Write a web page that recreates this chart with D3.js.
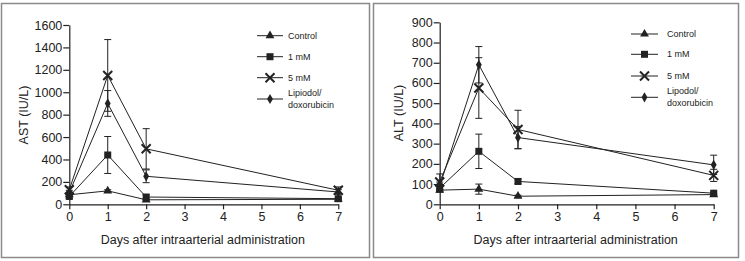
<!DOCTYPE html>
<html><head><meta charset="utf-8">
<script src="https://cdn.jsdelivr.net/npm/d3@7"></script>
<style>body{margin:0;background:#fff}svg{display:block}text{font-family:Arial,"Liberation Sans",sans-serif;fill:#222}</style>
</head><body>
<svg id="c" width="745" height="261"></svg>
<script>
const days = [0, 1, 2, 7];
const xTicks = [0, 1, 2, 3, 4, 5, 6, 7];
const seriesNames = ["Control", "1 mM", "5 mM", "Lipiodol/doxorubicin"];
const seriesNamesRight = ["Control", "1 mM", "5 mM", "Lipodol/doxorubicin"];
const astTicks = [0, 200, 400, 600, 800, 1000, 1200, 1400, 1600];
const altTicks = [0, 100, 200, 300, 400, 500, 600, 700, 800, 900];

const astControl = [85, 120, 40, 45];
const astControlErr = [10, 10, 8, 8];
const ast1mM = [70, 440, 65, 50];
const ast1mMErr = [20, 165, 20, 10];
const ast5mM = [130, 1150, 495, 125];
const ast5mMErr = [25, 320, 180, 30];
const astLip = [105, 900, 250, 110];
const astLipErr = [20, 115, 57, 20];

const altControl = [70, 75, 40, 48];
const altControlErr = [10, 25, 5, 5];
const alt1mM = [80, 262, 113, 55];
const alt1mMErr = [15, 85, 12, 6];
const alt5mM = [110, 575, 370, 143];
const alt5mMErr = [40, 150, 95, 30];
const altLip = [90, 690, 330, 195];
const altLipErr = [20, 90, 55, 48];

const svg = d3.select("#c");
const ink = "#222";

function marker(g, type, x, y) {
  if (type === "tri") {
    g.append("path").attr("d", d3.symbol(d3.symbolTriangle, 34)()).attr("transform", `translate(${x},${y})`).attr("fill", ink);
  } else if (type === "sq") {
    g.append("rect").attr("x", x - 3.5).attr("y", y - 3.5).attr("width", 7).attr("height", 7).attr("fill", ink);
  } else if (type === "x") {
    g.append("path").attr("d", `M${x-4.5},${y-4.5}L${x+4.5},${y+4.5}M${x-4.5},${y+4.5}L${x+4.5},${y-4.5}`).attr("stroke", ink).attr("stroke-width", 2);
  } else {
    g.append("path").attr("d", d3.symbol(d3.symbolDiamond, 30)()).attr("transform", `translate(${x},${y})`).attr("fill", ink);
  }
}

function panel(cfg) {
  const g = svg.append("g");
  g.append("rect").attr("x", cfg.box[0]).attr("y", cfg.box[1]).attr("width", cfg.box[2]).attr("height", cfg.box[3])
    .attr("fill", "none").attr("stroke", "#8a8a8a").attr("stroke-width", 1.5);
  const x = d3.scaleLinear().domain([0, 7]).range(cfg.xr);
  const y = d3.scaleLinear().domain([0, cfg.ymax]).range(cfg.yr);
  const xa = g.append("g").attr("transform", `translate(0,${cfg.yr[0]})`)
    .call(d3.axisBottom(x).tickValues(xTicks).tickFormat(d3.format("d")).tickSize(5).tickSizeOuter(0).tickPadding(3));
  const ya = g.append("g").attr("transform", `translate(${cfg.xr[0]},0)`)
    .call(d3.axisLeft(y).tickValues(cfg.yticks).tickFormat(d3.format("d")).tickSize(6).tickSizeOuter(0).tickPadding(1));
  [xa, ya].forEach(a => {
    a.selectAll("path,line").attr("stroke", ink).attr("stroke-width", 1.2);
    a.selectAll("text").attr("font-size", 12.5).attr("fill", ink).style("font-family", "Arial, 'Liberation Sans', sans-serif");
  });
  g.append("text").attr("x", (cfg.xr[0] + cfg.xr[1]) / 2 - 1).attr("y", 243.5).attr("text-anchor", "middle").attr("font-size", 12.5)
    .text("Days after intraarterial administration");
  g.append("text").attr("transform", `translate(${cfg.ytx},${cfg.yty}) rotate(-90)`).attr("text-anchor", "middle").attr("font-size", 12.5)
    .text(cfg.ytitle);

  const types = ["tri", "sq", "x", "dia"];
  cfg.series.forEach((s, i) => {
    const line = d3.line().x((d, j) => x(days[j])).y(d => y(d));
    g.append("path").attr("d", line(s.v)).attr("fill", "none").attr("stroke", ink).attr("stroke-width", 1);
    s.v.forEach((v, j) => {
      const e = s.e[j];
      if (e > 0) {
        const cx = x(days[j]);
        g.append("path").attr("d", `M${cx},${y(v - e)}V${y(v + e)}M${cx-3.5},${y(v - e)}H${cx+3.5}M${cx-3.5},${y(v + e)}H${cx+3.5}`)
          .attr("stroke", ink).attr("stroke-width", 1).attr("fill", "none");
      }
    });
  });
  cfg.series.forEach((s, i) => {
    s.v.forEach((v, j) => marker(g, types[i], x(days[j]), y(v)));
  });

  const L = cfg.legend;
  cfg.names.forEach((n, i) => {
    const ly = L.rows[i];
    g.append("line").attr("x1", L.x0).attr("x2", L.x1).attr("y1", ly).attr("y2", ly).attr("stroke", ink).attr("stroke-width", 1);
    marker(g, types[i], (L.x0 + L.x1) / 2, ly);
    const parts = n.split("/");
    if (parts.length > 1) {
      g.append("text").attr("x", L.tx).attr("y", ly - 3).attr("font-size", 9).text(parts[0] + "/");
      g.append("text").attr("x", L.tx).attr("y", ly + 9).attr("font-size", 9).text(parts[1]);
    } else {
      g.append("text").attr("x", L.tx).attr("y", ly + 3).attr("font-size", 9).text(n);
    }
  });
}

panel({
  box: [1.5, 3.5, 368, 254], xr: [69.3, 338.3], yr: [204.3, 25], ymax: 1600, yticks: astTicks,
  ytitle: "AST (IU/L)", ytx: 27.5, yty: 115,
  names: seriesNames,
  series: [{v: astControl, e: astControlErr}, {v: ast1mM, e: ast1mMErr}, {v: ast5mM, e: ast5mMErr}, {v: astLip, e: astLipErr}],
  legend: {x0: 257, x1: 283, tx: 288, rows: [35.7, 56.7, 77.7, 99]}
});
panel({
  box: [373.5, 3.5, 365, 254], xr: [439.7, 713.7], yr: [204.3, 22.3], ymax: 900, yticks: altTicks,
  ytitle: "ALT (IU/L)", ytx: 403, yty: 113,
  names: seriesNamesRight,
  series: [{v: altControl, e: altControlErr}, {v: alt1mM, e: alt1mMErr}, {v: alt5mM, e: alt5mMErr}, {v: altLip, e: altLipErr}],
  legend: {x0: 631, x1: 658, tx: 667, rows: [34, 54.3, 76, 97.3]}
});
</script>
</body></html>
